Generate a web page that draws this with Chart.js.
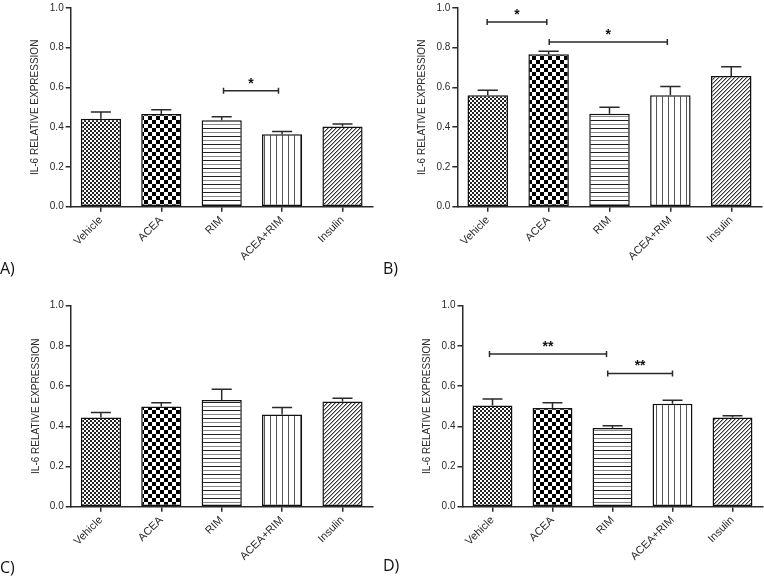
<!DOCTYPE html>
<html>
<head>
<meta charset="utf-8">
<script src="https://cdn.jsdelivr.net/npm/chart.js@4.4.0/dist/chart.umd.min.js"></script>
<style>
    body { margin: 0; background: #fff; width: 764px; height: 579px; position: relative; overflow: hidden; font-family: "Liberation Sans", Arial, sans-serif; }
    .panel { position: absolute; }
    .tag { position: absolute; font-size: 16px; color: #111; line-height: 18px; font-family: "Open Sans", "Liberation Sans", sans-serif; }
</style>
</head>
<body>
<div class="panel" style="left:0;top:0"><canvas id="chart-a" width="380" height="290"></canvas></div>
<div class="panel" style="left:380px;top:0"><canvas id="chart-b" width="384" height="290"></canvas></div>
<div class="panel" style="left:0;top:290px"><canvas id="chart-c" width="380" height="289"></canvas></div>
<div class="panel" style="left:380px;top:290px"><canvas id="chart-d" width="384" height="289"></canvas></div>
<div class="tag" style="left:0;top:259px">A)</div>
<div class="tag" style="left:383px;top:259px">B)</div>
<div class="tag" style="left:0;top:558px">C)</div>
<div class="tag" style="left:383px;top:556px">D)</div>

<script>
const groups = ["Vehicle", "ACEA", "RIM", "ACEA+RIM", "Insulin"];
const yTicks = [0, 0.2, 0.4, 0.6, 0.8, 1.0];
const yTitle = "IL-6 RELATIVE EXPRESSION";

const meanA = [0.443, 0.466, 0.435, 0.364, 0.404];
const semA = [0.033, 0.022, 0.018, 0.015, 0.012];
const meanB = [0.561, 0.767, 0.468, 0.561, 0.658];
const semB = [0.025, 0.015, 0.032, 0.044, 0.046];
const meanC = [0.444, 0.498, 0.531, 0.459, 0.524];
const semC = [0.025, 0.019, 0.053, 0.035, 0.015];
const meanD = [0.504, 0.491, 0.391, 0.512, 0.444];
const semD = [0.032, 0.026, 0.012, 0.017, 0.009];

// significance brackets: from / to in category units, y in data units
const sigA = [{ from: 2.03, to: 2.94, y: 0.584, text: "*" }];
const sigB = [{ from: -0.01, to: 0.97, y: 0.93, text: "*" }, { from: 1.01, to: 2.95, y: 0.829, text: "*" }];
const sigC = [];
const sigD = [{ from: -0.05, to: 1.9, y: 0.76, text: "**" }, { from: 1.92, to: 3.0, y: 0.663, text: "**" }];

const ink = "#2a2a2a";

function makeTile(kind) {
    const c = document.createElement("canvas");
    const g = c.getContext("2d");
    const sizes = { fine: [4, 4], check: [8, 8], hlines: [4, 8], vlines: [6, 1], diag: [4, 4] };
    c.width = sizes[kind][0];
    c.height = sizes[kind][1];
    g.fillStyle = "#fff";
    g.fillRect(0, 0, c.width, c.height);
    if (kind === "fine") {
        g.fillStyle = "#222";
        g.fillRect(0, 0, 2, 2);
        g.fillRect(2, 2, 2, 2);
    } else if (kind === "check") {
        g.fillStyle = "#000";
        g.fillRect(0, 0, 4, 4);
        g.fillRect(4, 4, 4, 4);
    } else if (kind === "hlines") {
        g.fillStyle = "#222";
        g.fillRect(0, 0, 4, 1);
        g.fillStyle = "#888";
        g.fillRect(0, 4, 4, 1);
    } else if (kind === "vlines") {
        g.fillStyle = "#555";
        g.fillRect(0, 0, 1, 1);
    } else if (kind === "diag") {
        g.fillStyle = "#333";
        for (let i = 0; i < 4; i++) g.fillRect(i, 3 - i, 1, 1);
        g.fillStyle = "#aaa";
        for (let i = 0; i < 4; i++) g.fillRect((i + 1) % 4, 3 - i, 1, 1);
    }
    return c;
}

const errorBars = {
    id: "errorBars",
    afterDatasetsDraw(chart, args, opts) {
        const ctx = chart.ctx;
        const y = chart.scales.y;
        const x = chart.scales.x;
        const values = chart.data.datasets[0].data;
        ctx.save();
        ctx.strokeStyle = ink;
        ctx.lineWidth = 1.5;
        chart.getDatasetMeta(0).data.forEach(function (bar, i) {
            const yBar = y.getPixelForValue(values[i]);
            const yTop = y.getPixelForValue(values[i] + opts.errors[i]);
            const half = bar.width / 4;
            ctx.beginPath();
            ctx.moveTo(bar.x, yBar);
            ctx.lineTo(bar.x, yTop);
            ctx.moveTo(bar.x - half, yTop);
            ctx.lineTo(bar.x + half, yTop);
            ctx.stroke();
        });
        ctx.fillStyle = "#111";
        ctx.font = "bold 14px 'Liberation Sans', Arial, sans-serif";
        ctx.textAlign = "center";
        ctx.textBaseline = "alphabetic";
        opts.brackets.forEach(function (b) {
            const x1 = x.getPixelForValue(b.from);
            const x2 = x.getPixelForValue(b.to);
            const yy = y.getPixelForValue(b.y);
            ctx.beginPath();
            ctx.moveTo(x1, yy);
            ctx.lineTo(x2, yy);
            ctx.moveTo(x1, yy - 3);
            ctx.lineTo(x1, yy + 3);
            ctx.moveTo(x2, yy - 3);
            ctx.lineTo(x2, yy + 3);
            ctx.stroke();
            ctx.fillText(b.text, (x1 + x2) / 2, yy - 3);
        });
        ctx.restore();
    }
};

function createBarChart(chartId, means, errors, brackets, box) {
    const canvas = document.getElementById(chartId);
    const ctx = canvas.getContext("2d");
    const fills = ["fine", "check", "hlines", "vlines", "diag"].map(function (k) {
        return ctx.createPattern(makeTile(k), "repeat");
    });
    return new Chart(ctx, {
        type: "bar",
        data: {
            labels: groups,
            datasets: [{
                data: means,
                backgroundColor: fills,
                borderColor: "#111",
                borderWidth: 1.5,
                borderSkipped: false,
                barPercentage: 0.665,
                categoryPercentage: 1.0,
            }]
        },
        options: {
            responsive: false,
            animation: false,
            devicePixelRatio: 1,
            layout: {
                padding: { left: box.titleX - 6, right: canvas.width - box.right, top: box.top, bottom: 0 }
            },
            plugins: {
                legend: { display: false },
                tooltip: { enabled: false },
                errorBars: { errors: errors, brackets: brackets },
            },
            scales: {
                x: {
                    offset: true,
                    afterFit: function (scale) { scale.height = canvas.height - box.bottom; },
                    grid: { offset: false, drawOnChartArea: false, tickLength: 5, color: ink, lineWidth: 1.5 },
                    border: { display: true, color: ink, width: 1.5 },
                    ticks: {
                        autoSkip: false, minRotation: 45, maxRotation: 45, padding: 2,
                        color: ink, font: { family: "'Liberation Sans', Arial, sans-serif", size: 11 }
                    },
                },
                y: {
                    min: 0,
                    max: 1,
                    afterFit: function (scale) { scale.width = box.left - (box.titleX - 6); },
                    afterBuildTicks: function (scale) { scale.ticks = yTicks.map(function (v) { return { value: v }; }); },
                    grid: { drawOnChartArea: false, tickLength: 5, color: ink, lineWidth: 1.5 },
                    border: { display: true, color: ink, width: 1.5 },
                    ticks: {
                        padding: 2, color: ink,
                        font: { family: "'Liberation Sans', Arial, sans-serif", size: 10 },
                        callback: function (v) { return Number(v).toFixed(1); }
                    },
                    title: {
                        display: true, text: yTitle, color: ink, padding: 0,
                        font: { family: "'Liberation Sans', Arial, sans-serif", size: 10 }
                    },
                },
            },
        },
        plugins: [errorBars],
    });
}

createBarChart("chart-a", meanA, semA, sigA, { left: 70.7, right: 372.7, top: 5, bottom: 206.7, titleX: 35 });
createBarChart("chart-b", meanB, semB, sigB, { left: 77.3, right: 381.7, top: 6, bottom: 206.7, titleX: 42 });
createBarChart("chart-c", meanC, semC, sigC, { left: 70.7, right: 372.7, top: 15.7, bottom: 216.7, titleX: 36 });
createBarChart("chart-d", meanD, semD, sigD, { left: 82.5, right: 382.5, top: 15.7, bottom: 216.7, titleX: 47 });
</script>
</body>
</html>
